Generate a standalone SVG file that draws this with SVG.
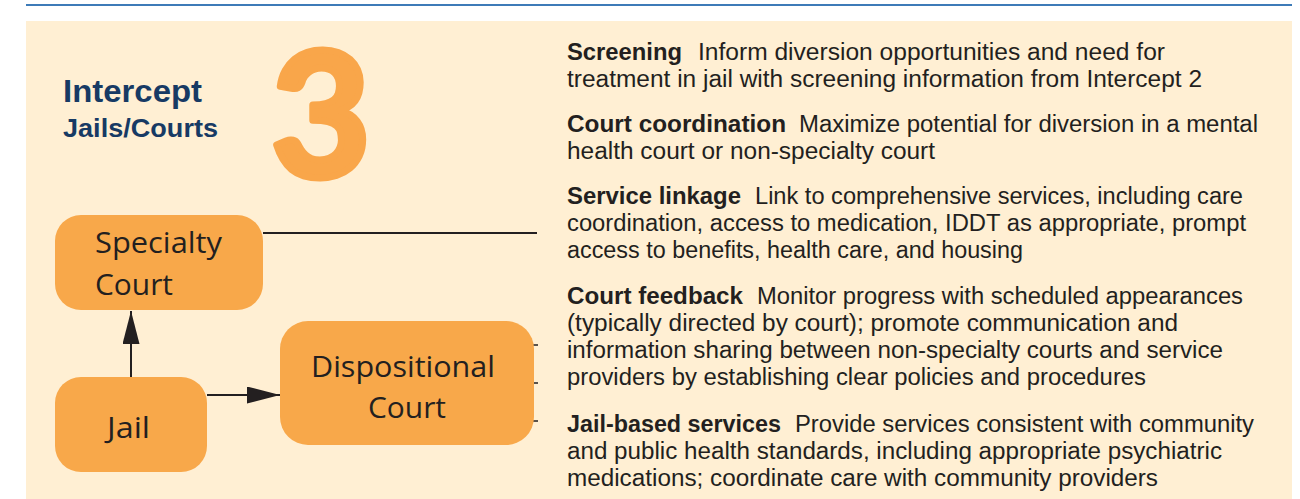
<svg xmlns="http://www.w3.org/2000/svg" width="1300" height="499" viewBox="0 0 1300 499">
<style>
.bg{fill:#ffefd3}
.node{fill:#f8a84a}
.lbl{font-family:"Open Sans","Noto Sans","Liberation Sans",sans-serif;font-size:30px;fill:#231f20}
.body{font-family:"Liberation Sans",Arial,sans-serif;font-size:23px;fill:#231f20}
.b{font-weight:bold}
.title{font-family:"Liberation Sans",Arial,sans-serif;font-weight:bold;fill:#173a64}
.conn{stroke:#231f20;stroke-width:2;fill:none}
.tick{stroke:#231f20;stroke-width:1.5}
</style>
<defs>
<marker id="ah" markerUnits="userSpaceOnUse" markerWidth="33" markerHeight="17" refX="33" refY="8.5" orient="auto">
<path d="M0,0 L33,8.5 L0,17 z" fill="#231f20"/>
</marker>
</defs>
<line x1="26" y1="5" x2="1292" y2="5" stroke="#3d7bb8" stroke-width="2"/>
<rect class="bg" x="26" y="21" width="1266" height="478"/>
<g id="title">
<text class="title" x="63" y="102" font-size="31" textLength="139" lengthAdjust="spacingAndGlyphs">Intercept</text>
<text class="title" x="63" y="137" font-size="26" textLength="155" lengthAdjust="spacingAndGlyphs">Jails/Courts</text>
<text x="321" y="177" text-anchor="middle" font-family="Lato,'DejaVu Sans',sans-serif" font-weight="bold" font-size="172" fill="#f9a64a" stroke="#f9a64a" stroke-width="7" stroke-linejoin="round">3</text>
</g>
<g id="connectors">
<line class="conn" x1="263" y1="233" x2="537" y2="233"/>
<line class="conn" x1="131" y1="377" x2="131" y2="311" marker-end="url(#ah)"/>
<line class="conn" x1="207" y1="395" x2="280" y2="395" marker-end="url(#ah)"/>
<line class="tick" x1="533" y1="345" x2="538" y2="345"/>
<line class="tick" x1="533" y1="383" x2="538" y2="383"/>
<line class="tick" x1="533" y1="421" x2="538" y2="421"/>
</g>
<g id="specialty-court">
<rect class="node" x="55" y="215" width="208" height="95" rx="26"/>
<text class="lbl" x="95" y="253" textLength="127" lengthAdjust="spacingAndGlyphs">Specialty</text>
<text class="lbl" x="95" y="295" textLength="78" lengthAdjust="spacingAndGlyphs">Court</text>
</g>
<g id="jail">
<rect class="node" x="55" y="377" width="152" height="95" rx="26"/>
<text class="lbl" x="107" y="438" textLength="43" lengthAdjust="spacingAndGlyphs">Jail</text>
</g>
<g id="dispositional-court">
<rect class="node" x="280" y="321" width="254" height="124" rx="28"/>
<text class="lbl" x="311" y="377" textLength="184" lengthAdjust="spacingAndGlyphs">Dispositional</text>
<text class="lbl" x="368" y="418" textLength="78" lengthAdjust="spacingAndGlyphs">Court</text>
</g>
<g id="descriptions">
<text class="body b" x="567" y="60" textLength="115" lengthAdjust="spacingAndGlyphs">Screening</text>
<text class="body" x="698" y="60" textLength="467" lengthAdjust="spacingAndGlyphs">Inform diversion opportunities and need for</text>
<text class="body" x="567" y="87" textLength="635" lengthAdjust="spacingAndGlyphs">treatment in jail with screening information from Intercept 2</text>
<text class="body b" x="567" y="132" textLength="219" lengthAdjust="spacingAndGlyphs">Court coordination</text>
<text class="body" x="799" y="132" textLength="459" lengthAdjust="spacingAndGlyphs">Maximize potential for diversion in a mental</text>
<text class="body" x="567" y="159" textLength="368" lengthAdjust="spacingAndGlyphs">health court or non-specialty court</text>
<text class="body b" x="567" y="204" textLength="174" lengthAdjust="spacingAndGlyphs">Service linkage</text>
<text class="body" x="755" y="204" textLength="488" lengthAdjust="spacingAndGlyphs">Link to comprehensive services, including care</text>
<text class="body" x="567" y="231" textLength="679" lengthAdjust="spacingAndGlyphs">coordination, access to medication, IDDT as appropriate, prompt</text>
<text class="body" x="567" y="258" textLength="456" lengthAdjust="spacingAndGlyphs">access to benefits, health care, and housing</text>
<text class="body b" x="567" y="304" textLength="176" lengthAdjust="spacingAndGlyphs">Court feedback</text>
<text class="body" x="757" y="304" textLength="486" lengthAdjust="spacingAndGlyphs">Monitor progress with scheduled appearances</text>
<text class="body" x="567" y="331" textLength="611" lengthAdjust="spacingAndGlyphs">(typically directed by court); promote communication and</text>
<text class="body" x="567" y="358" textLength="656" lengthAdjust="spacingAndGlyphs">information sharing between non-specialty courts and service</text>
<text class="body" x="567" y="385" textLength="579" lengthAdjust="spacingAndGlyphs">providers by establishing clear policies and procedures</text>
<text class="body b" x="567" y="432" textLength="214" lengthAdjust="spacingAndGlyphs">Jail-based services</text>
<text class="body" x="795" y="432" textLength="459" lengthAdjust="spacingAndGlyphs">Provide services consistent with community</text>
<text class="body" x="567" y="459" textLength="655" lengthAdjust="spacingAndGlyphs">and public health standards, including appropriate psychiatric</text>
<text class="body" x="567" y="486" textLength="591" lengthAdjust="spacingAndGlyphs">medications; coordinate care with community providers</text>
</g>
</svg>
